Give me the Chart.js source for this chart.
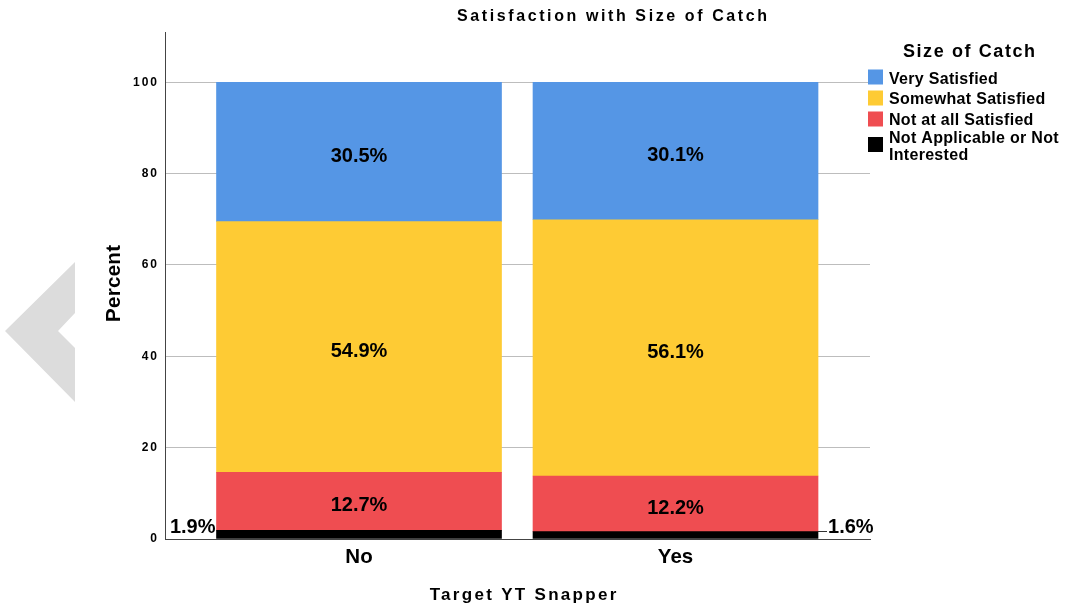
<!DOCTYPE html>
<html><head><meta charset="utf-8">
<script src="https://cdn.jsdelivr.net/npm/chart.js@4.4.0/dist/chart.umd.min.js"></script>
<style>html,body{margin:0;padding:0;background:#fff;overflow:hidden;}#wrap{width:1068px;height:609px;position:relative;}</style>
</head><body><div id="wrap"><canvas id="c" width="1068" height="609"></canvas></div>
<script>
// ---- data ----
const categories = ['No', 'Yes'];
const seriesNames = ['Very Satisfied', 'Somewhat Satisfied', 'Not at all Satisfied', 'Not Applicable or Not Interested'];
const verySatisfied = [30.5, 30.1];
const somewhatSatisfied = [54.9, 56.1];
const notAtAllSatisfied = [12.7, 12.2];
const notApplicable = [1.9, 1.6];
const yTickValues = [0, 20, 40, 60, 80, 100];
const chartTitle = 'Satisfaction with Size of Catch';
const legendTitle = 'Size of Catch';
const xTitle = 'Target YT Snapper';
const yTitle = 'Percent';

const colors = {
  'Very Satisfied': '#5596e5',
  'Somewhat Satisfied': '#fecb34',
  'Not at all Satisfied': '#ef4d51',
  'Not Applicable or Not Interested': '#000000'
};
const FONT = '"Liberation Sans", Arial, Helvetica, sans-serif';

function pts(vals) { return vals.map((v, i) => ({ x: i, y: v })); }

const stackOrder = [
  [seriesNames[3], notApplicable],
  [seriesNames[2], notAtAllSatisfied],
  [seriesNames[1], somewhatSatisfied],
  [seriesNames[0], verySatisfied]
];
const datasets = stackOrder.map(([name, vals]) => ({
  label: name,
  data: pts(vals),
  backgroundColor: colors[name],
  borderWidth: 0,
  barThickness: 285
}));

function drawText(ctx, s, x, y, size, spacing, align, color) {
  ctx.save();
  ctx.font = 'bold ' + size + 'px ' + FONT;
  ctx.fillStyle = color || '#000';
  ctx.textBaseline = 'alphabetic';
  ctx.letterSpacing = (spacing || 0) + 'px';
  let dx = 0;
  if (align === 'center') dx = (spacing || 0) / 2;
  if (align === 'right') dx = (spacing || 0);
  ctx.textAlign = align || 'left';
  ctx.fillText(s, x + dx, y);
  ctx.restore();
}

const decor = {
  id: 'decor',
  beforeDraw(chart) {
    const ctx = chart.ctx;
    ctx.save();
    ctx.fillStyle = '#dcdcdc';
    ctx.beginPath();
    ctx.moveTo(75, 262);
    ctx.lineTo(5, 331);
    ctx.lineTo(75, 402);
    ctx.lineTo(75, 348);
    ctx.lineTo(58, 331);
    ctx.lineTo(75, 313);
    ctx.closePath();
    ctx.fill();
    ctx.restore();
  },
  afterDatasetsDraw(chart) {
    const ctx = chart.ctx;
    chart.data.datasets.forEach((ds, di) => {
      const meta = chart.getDatasetMeta(di);
      meta.data.forEach((el, i) => {
        const v = ds.data[i].y;
        const label = v.toFixed(1) + '%';
        const half = el.width / 2;
        if (ds.label === seriesNames[3]) {
          const base = el.base - 6;
          if (i === 0) {
            drawText(ctx, label, el.x - half - 1, base, 20, 0, 'right');
          } else {
            ctx.save();
            ctx.strokeStyle = '#333';
            ctx.lineWidth = 1;
            ctx.beginPath();
            const ly = Math.round(el.y) - 0.5;
            ctx.moveTo(el.x + half, ly);
            ctx.lineTo(el.x + half + 9, ly);
            ctx.stroke();
            ctx.restore();
            drawText(ctx, label, el.x + half + 10, base, 20, 0, 'left');
          }
        } else {
          const cy = (el.y + el.base) / 2;
          drawText(ctx, label, el.x, cy + 10, 20, 0, 'center');
        }
      });
    });
    ctx.letterSpacing = '2px';
  },
  afterDraw(chart) {
    const ctx = chart.ctx;
    ctx.letterSpacing = '0px';
    const ca = chart.chartArea;
    // chart title
    drawText(ctx, chartTitle, 612, 21, 16, 2.6, 'center');
    // x axis title
    drawText(ctx, xTitle, 523, 600, 17, 2.3, 'center');
    // y axis title (rotated)
    ctx.save();
    ctx.translate(120, (ca.top + ca.bottom) / 2 - 2);
    ctx.rotate(-Math.PI / 2);
    drawText(ctx, yTitle, 0, 0, 20.5, 0.3, 'center');
    ctx.restore();
    // legend
    drawText(ctx, legendTitle, 969, 57, 18, 1.6, 'center');
    const rows = [
      { name: seriesNames[0], box: 69.5, lines: [[seriesNames[0], 83.5]] },
      { name: seriesNames[1], box: 90.5, lines: [[seriesNames[1], 104]] },
      { name: seriesNames[2], box: 111.5, lines: [[seriesNames[2], 124.5]] },
      { name: seriesNames[3], box: 137, lines: [['Not Applicable or Not', 143], ['Interested', 159.5]] }
    ];
    rows.forEach(r => {
      ctx.fillStyle = colors[r.name];
      ctx.fillRect(868, r.box, 15, 15);
      r.lines.forEach(([t, y]) => drawText(ctx, t, 889, y, 16, 0.3, 'left'));
    });
  }
};

new Chart(document.getElementById('c'), {
  type: 'bar',
  data: { datasets },
  options: {
    responsive: false,
    animation: false,
    events: [],
    layout: { padding: { top: 32, right: 198, left: 0, bottom: 0 } },
    plugins: { legend: { display: false }, title: { display: false }, tooltip: { enabled: false } },
    scales: {
      x: {
        type: 'linear',
        offset: false,
        bounds: 'data',
        min: -0.613,
        max: 1.6145,
        stacked: true,
        grid: { display: false, drawTicks: false, offset: false },
        border: { display: true, color: '#444', width: 1 },
        afterBuildTicks: (s) => { s.ticks = categories.map((c, i) => ({ value: i })); },
        afterFit: (s) => { s.height = 70; },
        ticks: {
          padding: 6,
          color: '#000',
          font: { family: FONT, size: 20.5, weight: 'bold' },
          callback: (v) => categories[v]
        }
      },
      y: {
        min: 0,
        max: 111,
        stacked: true,
        afterBuildTicks: (s) => { s.ticks = yTickValues.map(v => ({ value: v })); },
        afterFit: (s) => { s.width = 165; },
        grid: { color: '#bdbdbd', lineWidth: 1, drawTicks: false },
        border: { display: true, color: '#444', width: 1 },
        ticks: {
          z: 1,
          padding: 6,
          color: '#000',
          font: { family: FONT, size: 12, weight: 'bold' },
          callback: (v) => String(v)
        }
      }
    }
  },
  plugins: [decor]
});
</script>
</body></html>
